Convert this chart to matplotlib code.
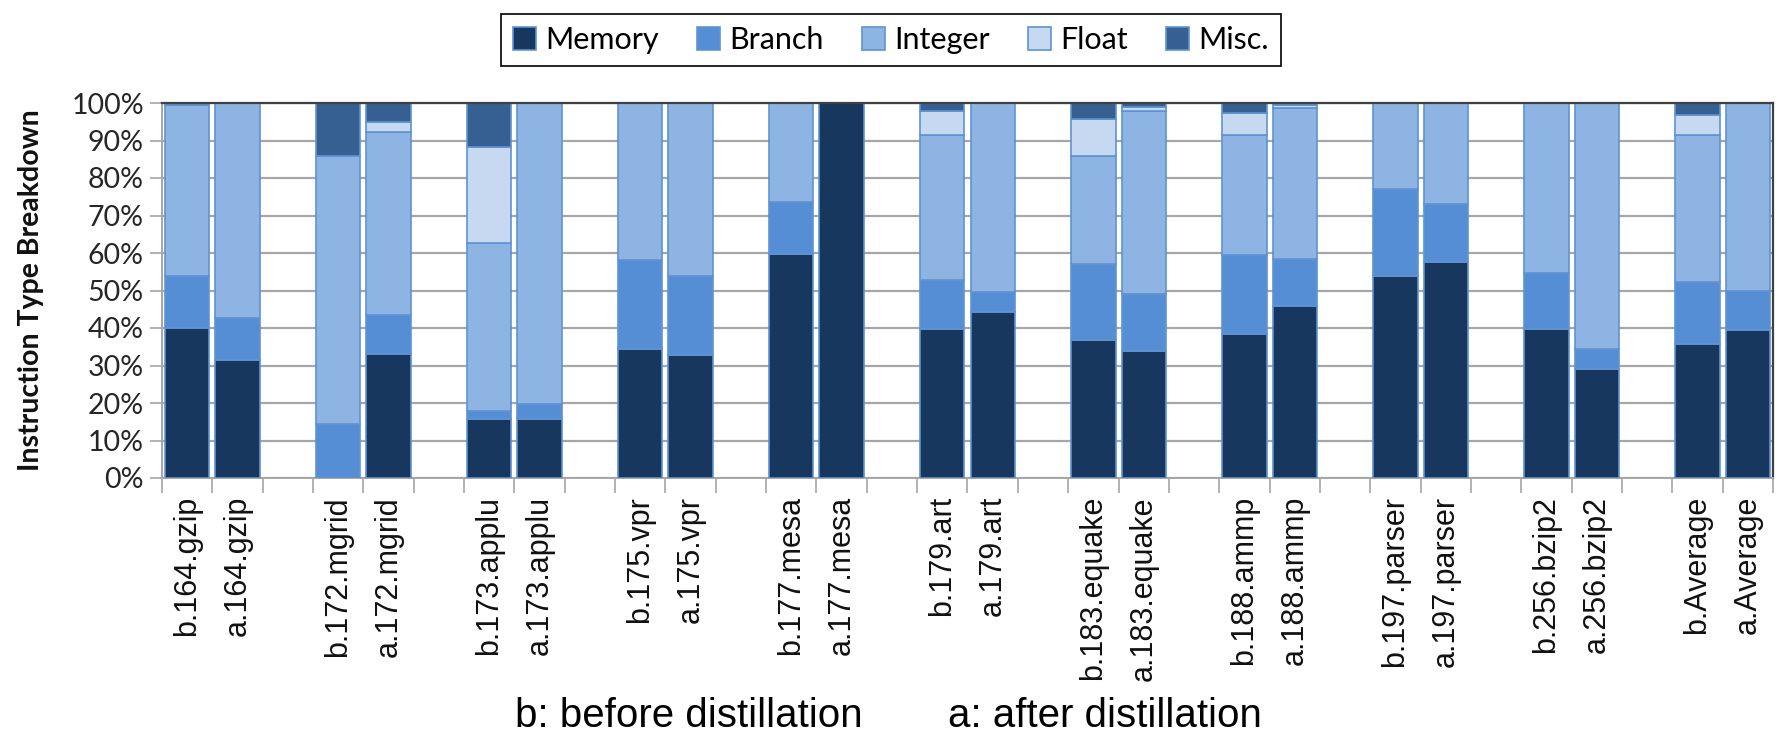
import matplotlib
matplotlib.use("Agg")
import matplotlib.pyplot as plt
from matplotlib.patches import Patch
from matplotlib import font_manager as fm
import numpy as np

# ---------------- data ----------------
benchmarks = ["164.gzip", "172.mgrid", "173.applu", "175.vpr", "177.mesa",
              "179.art", "183.equake", "188.ammp", "197.parser", "256.bzip2", "Average"]
series_names = ["Memory", "Branch", "Integer", "Float", "Misc."]

# values in %, per benchmark: before (b) and after (a)
memory_b = [40.0, 0.0, 15.8, 34.5, 59.7, 39.8, 36.9, 38.5, 54.0, 39.8, 35.8]
memory_a = [31.6, 33.2, 15.8, 32.9, 100.0, 44.4, 34.0, 46.0, 57.6, 29.1, 39.6]
branch_b = [13.8, 14.5, 2.0, 23.7, 13.9, 13.1, 20.3, 21.1, 23.0, 14.9, 16.4]
branch_a = [11.1, 10.2, 4.0, 21.1, 0.0, 5.3, 15.2, 12.3, 15.6, 5.3, 10.4]
integer_b = [45.7, 71.3, 44.9, 41.8, 26.4, 38.7, 28.7, 32.0, 23.0, 45.3, 39.4]
integer_a = [57.3, 49.0, 80.2, 46.0, 0.0, 50.3, 48.6, 40.4, 26.8, 65.6, 50.0]
float_b = [0.0, 0.0, 25.6, 0.0, 0.0, 6.2, 9.9, 5.7, 0.0, 0.0, 5.1]
float_a = [0.0, 2.5, 0.0, 0.0, 0.0, 0.0, 1.1, 0.7, 0.0, 0.0, 0.0]
misc_b = [0.5, 14.2, 11.7, 0.0, 0.0, 2.2, 4.2, 2.7, 0.0, 0.0, 3.3]
misc_a = [0.0, 5.1, 0.0, 0.0, 0.0, 0.0, 1.1, 0.6, 0.0, 0.0, 0.0]

yticks_pct = [0, 10, 20, 30, 40, 50, 60, 70, 80, 90, 100]

colors = ["#17375E", "#558ED5", "#8EB4E3", "#C6D9F1", "#376092"]
edge = "#5F93D3"

# ---------------- fonts ----------------
def pick(fams, default="DejaVu Sans"):
    for f in fams:
        try:
            fm.findfont(fm.FontProperties(family=f), fallback_to_default=False)
            return f
        except Exception:
            pass
    return default

f_cal = pick(["Lato", "Open Sans", "Liberation Sans"])
f_arial = pick(["Liberation Sans", "DejaVu Sans"])

# ---------------- layout of slots ----------------
n = len(benchmarks)
b_pos = [3 * i + 0.5 for i in range(n)]
a_pos = [3 * i + 1.5 for i in range(n)]
n_slots = 3 * n - 1

W, H = 1781, 745
fig = plt.figure(figsize=(W / 100, H / 100), dpi=100)
ax = fig.add_axes([162 / W, 1 - 478 / H, (1773 - 162) / W, (478 - 103) / H])

before = [memory_b, branch_b, integer_b, float_b, misc_b]
after = [memory_a, branch_a, integer_a, float_a, misc_a]

width = 0.88
for pos, stacks in ((b_pos, before), (a_pos, after)):
    bottom = np.zeros(n)
    for vals, col in zip(stacks, colors):
        v = np.array(vals)
        ax.bar(pos, v, width, bottom=bottom, color=col, edgecolor=edge,
               linewidth=1.2, zorder=3)
        bottom += v

ax.set_xlim(0, n_slots)
ax.set_ylim(0, 100)

# grid / y axis
ax.set_yticks(yticks_pct)
ax.set_yticklabels([f"{v}%" for v in yticks_pct], fontsize=20.5,
                   family=f_cal, color="#262626")
ax.yaxis.grid(True, color="#A6A6A6", linewidth=1.6, zorder=0)
ax.tick_params(axis="y", length=9, width=1.2, color="#A6A6A6", pad=4)

# x ticks at slot boundaries
ax.set_xticks(np.arange(0, n_slots + 1))
ax.set_xticklabels([])
ax.tick_params(axis="x", which="major", length=11, width=1.2, color="#A6A6A6")
labels_pos, labels_txt = [], []
for i, b in enumerate(benchmarks):
    labels_pos += [b_pos[i], a_pos[i]]
    labels_txt += ["b." + b, "a." + b]
ax.set_xticks(labels_pos, minor=True)
ax.set_xticklabels(labels_txt, minor=True, rotation=90, fontsize=22,
                   family=f_arial, color="#111111")
ax.tick_params(axis="x", which="minor", length=0, pad=13)

for s in ("left", "bottom"):
    ax.spines[s].set_color("#A6A6A6")
    ax.spines[s].set_linewidth(1.4)
for s in ("top", "right"):
    ax.spines[s].set_color("#404040")
    ax.spines[s].set_linewidth(1.6)
ax.spines["top"].set_zorder(4)

ax.set_ylabel("Instruction Type Breakdown", fontsize=20.5, family=f_cal,
              fontweight="bold", color="#111111", labelpad=20)

# legend
handles = [Patch(facecolor=c, edgecolor=edge, linewidth=1.2) for c in colors]
leg = fig.legend(handles, series_names, loc="center", ncol=5,
                 bbox_to_anchor=(891 / W, 1 - 40 / H), frameon=True,
                 fancybox=False, edgecolor="black", framealpha=1,
                 prop={"family": f_cal, "size": 22},
                 handlelength=0.75, handleheight=0.75, handletextpad=0.3,
                 columnspacing=1.25, borderpad=0.4)
leg.get_frame().set_linewidth(1.2)

fig.text(863 / W, 1 - 716 / H, "b: before distillation", ha="right",
         va="center", fontsize=29, family=f_arial, color="black")
fig.text(948 / W, 1 - 716 / H, "a: after distillation", ha="left",
         va="center", fontsize=29, family=f_arial, color="black")

fig.savefig("out.png", dpi=100)
